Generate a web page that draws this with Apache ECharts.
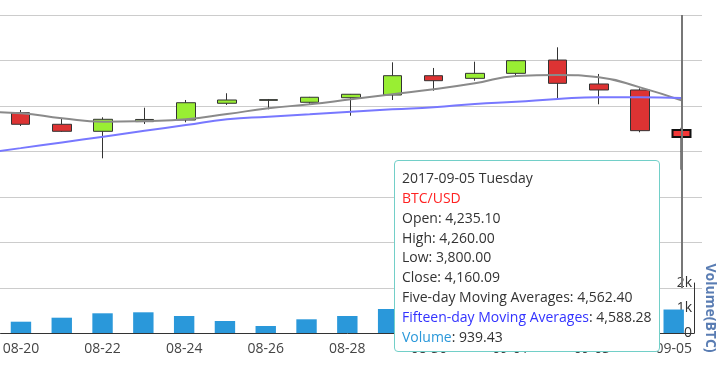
<!DOCTYPE html>
<html><head><meta charset="utf-8">
<script src="https://cdn.jsdelivr.net/npm/echarts@6/dist/echarts.min.js"></script>
<style>html,body{margin:0;padding:0;background:#fff}#c{width:725px;height:369px}</style>
</head><body><div id="c"></div>
<script>
const dates = ['2017-08-19','2017-08-20','2017-08-21','2017-08-22','2017-08-23','2017-08-24','2017-08-25','2017-08-26','2017-08-27','2017-08-28','2017-08-29','2017-08-30','2017-08-31','2017-09-01','2017-09-02','2017-09-03','2017-09-04','2017-09-05'];
const openV  = [4193, 4426, 4299, 4222, 4328, 4346, 4530, 4562, 4541, 4591, 4621, 4833, 4804, 4859, 5005, 4742, 4676, 4235.10];
const closeV = [4426, 4299, 4222, 4354, 4352, 4536, 4566, 4570, 4596, 4629, 4833, 4778, 4859, 4998, 4749, 4676, 4229, 4160.09];
const lowV   = [4040, 4280, 4215, 3925, 4302, 4321, 4511, 4464, 4511, 4393, 4566, 4668, 4778, 4822, 4585, 4519, 4211, 3800.00];
const highV  = [4500, 4456, 4365, 4376, 4481, 4566, 4640, 4577, 4600, 4632, 4980, 4918, 4987, 5005, 5145, 4852, 4695, 4260.00];
const ma5    = [4434, 4420, 4365, 4327, 4335, 4354, 4412, 4475, 4519, 4574, 4629, 4684, 4749, 4830, 4841, 4815, 4705, 4562.40];
const ma15   = [3976, 4037, 4100, 4163, 4227, 4290, 4354, 4382, 4409, 4437, 4464, 4486, 4522, 4547, 4577, 4596, 4596, 4588.28];
const volume = [500, 452, 612, 788, 828, 680, 480, 280, 548, 680, 960, 900, 780, 1050, 1350, 1000, 1450, 939.43];
const volTickLabels = {0: '0', 1000: '1k', 2000: '2k'};
const weekdays = ['Sunday','Monday','Tuesday','Wednesday','Thursday','Friday','Saturday'];

function fmt(n) {
  return n.toFixed(2).replace(/\B(?=(\d{3})+(?!\d))/g, ',');
}
const FONT = 'Open Sans';
const chart = echarts.init(document.getElementById('c'), null, {renderer: 'canvas'});
const gridL = -2, gridR = 23;
const everyOther = (idx) => idx % 2 === 1;
chart.setOption({
  animation: false,
  backgroundColor: '#fff',
  textStyle: {fontFamily: FONT},
  grid: [
    {left: gridL, right: gridR, top: 15, height: 273},
    {left: gridL, right: gridR, top: 283, height: 50}
  ],
  tooltip: {
    trigger: 'axis',
    alwaysShowContent: true,
    transitionDuration: 0,
    position: [394, 160],
    backgroundColor: '#fff',
    borderColor: '#72cfc8',
    borderWidth: 1,
    borderRadius: 4,
    padding: [7, 7, 4, 7],
    extraCssText: 'box-shadow:none;line-height:19.85px;',
    textStyle: {color: '#333', fontSize: 14, fontFamily: FONT},
    axisPointer: {type: 'line', lineStyle: {color: '#777', width: 2, type: 'solid'}},
    formatter: function (params) {
      const i = params[0].dataIndex;
      const d = new Date(dates[i] + 'T00:00:00');
      return dates[i] + ' ' + weekdays[d.getDay()] + '<br/>' +
        '<span style="color:#f22">BTC/USD</span><br/>' +
        'Open: ' + fmt(openV[i]) + '<br/>' +
        'High: ' + fmt(highV[i]) + '<br/>' +
        'Low: ' + fmt(lowV[i]) + '<br/>' +
        'Close: ' + fmt(closeV[i]) + '<br/>' +
        'Five-day Moving Averages: ' + fmt(ma5[i]) + '<br/>' +
        '<span style="color:#3333ff">Fifteen-day Moving Averages</span>: ' + fmt(ma15[i]) + '<br/>' +
        '<span style="color:#2a98da">Volume</span>: ' + fmt(volume[i]);
    }
  },
  xAxis: [
    {type: 'category', gridIndex: 0, data: dates, min: 1, max: dates.length - 1, boundaryGap: true,
     axisLine: {show: false}, axisTick: {show: false}, axisLabel: {show: false}, splitLine: {show: false}},
    {type: 'category', gridIndex: 1, data: dates, min: 1, max: dates.length - 1, boundaryGap: true,
     axisLine: {lineStyle: {color: '#333'}},
     axisTick: {length: 5, interval: everyOther, lineStyle: {color: '#333'}},
     axisLabel: {interval: everyOther, color: '#444', fontSize: 14, margin: 9, formatter: v => v.slice(5)},
     axisPointer: {show: false}}
  ],
  yAxis: [
    {type: 'value', gridIndex: 0, min: 2500, max: 5500, interval: 500,
     axisLine: {show: false}, axisTick: {show: false}, axisLabel: {show: false},
     splitLine: {lineStyle: {color: '#cccccc', width: 1}}},
    {type: 'value', gridIndex: 1, position: 'right', min: 0, max: 2000, interval: 1000,
     name: 'Volume(BTC)', nameLocation: 'middle', nameGap: 6, nameRotate: -90,
     nameTextStyle: {color: '#5a7db3', fontSize: 14, fontWeight: 'bold'},
     axisLine: {show: true, lineStyle: {color: '#333'}}, axisTick: {show: false},
     axisLabel: {inside: true, margin: 2, color: '#333', fontSize: 14,
       formatter: v => volTickLabels[v] !== undefined ? volTickLabels[v] : ''},
     splitLine: {show: false}}
  ],
  series: [
    {name: 'BTC/USD', type: 'candlestick', xAxisIndex: 0, yAxisIndex: 0,
     data: dates.map((d, i) => [openV[i], closeV[i], lowV[i], highV[i]]),
     barWidth: 19,
     itemStyle: {color: '#99ee33', color0: '#dd3333', borderColor: '#333', borderColor0: '#333', borderWidth: 1},
     emphasis: {itemStyle: {borderWidth: 2, borderColor: '#111', borderColor0: '#111'}}},
    {name: 'Five-day Moving Averages', type: 'line', xAxisIndex: 0, yAxisIndex: 0, data: ma5,
     smooth: true, symbol: 'none', lineStyle: {color: '#8a8a8a', width: 2}, itemStyle: {color: '#8a8a8a'},
     emphasis: {disabled: true}},
    {name: 'Fifteen-day Moving Averages', type: 'line', xAxisIndex: 0, yAxisIndex: 0, data: ma15,
     smooth: true, symbol: 'none', lineStyle: {color: '#7878ff', width: 2}, itemStyle: {color: '#7878ff'},
     emphasis: {disabled: true}},
    {name: 'Volume', type: 'bar', xAxisIndex: 1, yAxisIndex: 1, data: volume, barWidth: '50%',
     itemStyle: {color: '#2a98da'}, emphasis: {disabled: true}}
  ]
});
chart.dispatchAction({type: 'showTip', seriesIndex: 0, dataIndex: dates.length - 1});
</script>
</body></html>
